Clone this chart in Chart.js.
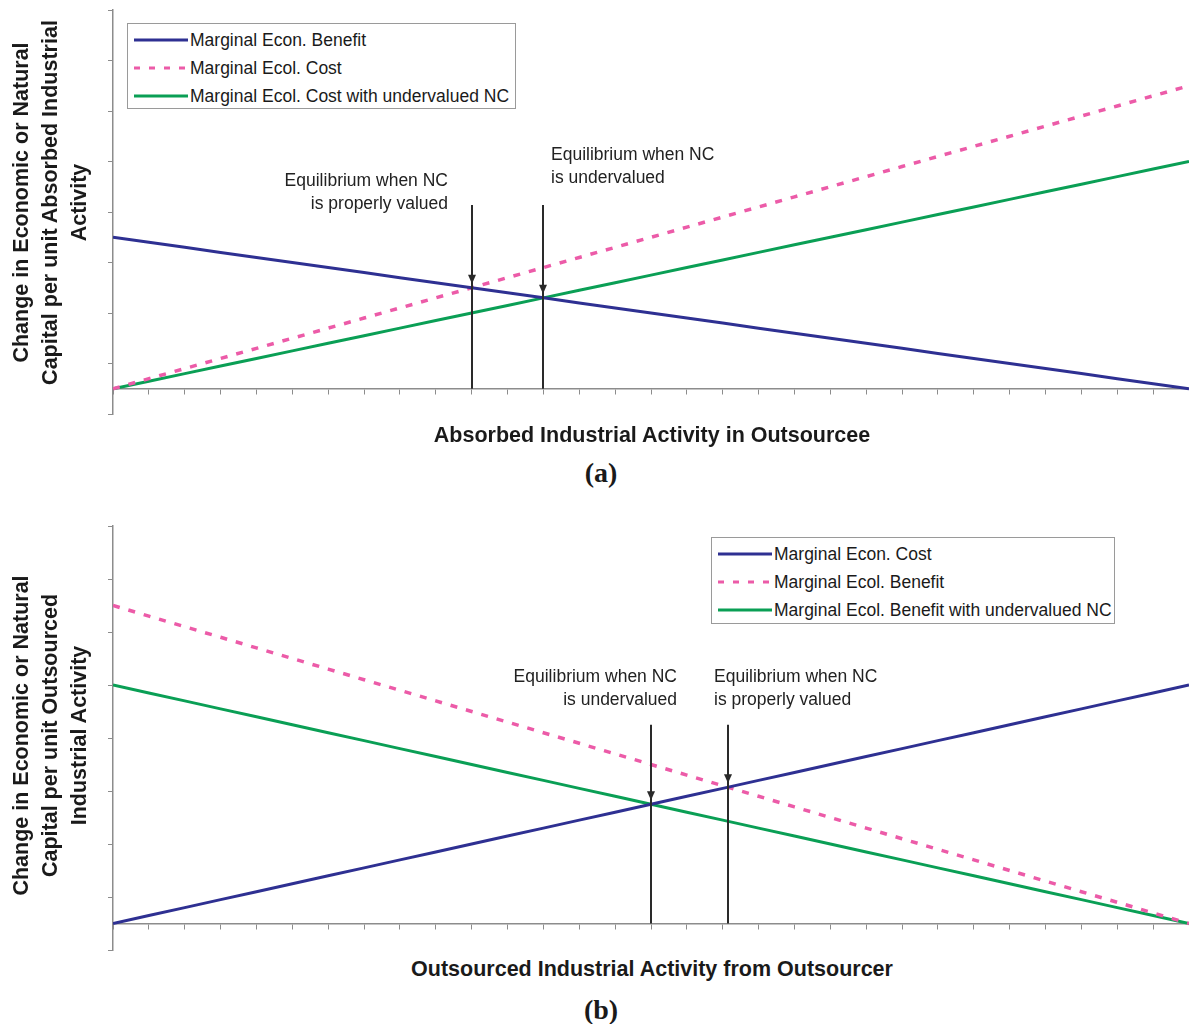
<!DOCTYPE html>
<html>
<head>
<meta charset="utf-8">
<title>Marginal costs and benefits of outsourced industrial activity</title>
<script src="https://cdn.jsdelivr.net/npm/chart.js@4.4.1/dist/chart.umd.min.js"></script>
<style>
  html, body { margin: 0; padding: 0; background: #fff; overflow: hidden; }
  #page { position: relative; width: 1189px; height: 1024px; font-family: "Liberation Sans", Arial, sans-serif; color: #1a1a1a; }
  canvas { position: absolute; left: 0; }
  .ytitle { position: absolute; width: 440px; height: 87px; font-weight: bold; font-size: 21.5px; line-height: 29px;
            text-align: center; transform: rotate(-90deg); transform-origin: 50% 50%; white-space: nowrap; }
  .xtitle { position: absolute; left: 0; width: 1304px; text-align: center; font-weight: bold; font-size: 21.5px; line-height: 26px; white-space: nowrap; }
  .panel { position: absolute; left: 0; width: 1202px; text-align: center; font-family: "Liberation Serif", "Times New Roman", serif;
           font-weight: bold; font-size: 28px; line-height: 32px; }
  .note { position: absolute; font-size: 17.5px; line-height: 23px; white-space: nowrap; color: #222; }
  .note.right { text-align: right; width: 260px; }
  .legend { position: absolute; box-sizing: border-box; border: 1px solid #9a9a9a; background: #fff; }
  .legend .row { position: absolute; left: 0; height: 24px; }
  .legend svg { position: absolute; left: 6px; top: 9px; }
  .legend span { position: absolute; top: 0; font-size: 17.5px; line-height: 24px; white-space: nowrap; }
</style>
</head>
<body>
<div id="page">
  <canvas id="chartA" width="1189" height="420" style="top:0px"></canvas>
  <canvas id="chartB" width="1189" height="440" style="top:516px"></canvas>

  <div class="ytitle" style="left:-170px; top:159px">Change in Economic or Natural<br>Capital per unit Absorbed Industrial<br>Activity</div>
  <div class="xtitle" style="top:422px">Absorbed Industrial Activity in Outsourcee</div>
  <div class="panel" style="top:457px">(a)</div>

  <div class="ytitle" style="left:-170px; top:692px">Change in Economic or Natural<br>Capital per unit Outsourced<br>Industrial Activity</div>
  <div class="xtitle" style="top:956px">Outsourced Industrial Activity from Outsourcer</div>
  <div class="panel" style="top:994px">(b)</div>

  <div class="note right" style="left:188px; top:169px">Equilibrium when NC<br>is properly valued</div>
  <div class="note" style="left:551px; top:143px">Equilibrium when NC<br>is undervalued</div>
  <div class="note right" style="left:417px; top:665px">Equilibrium when NC<br>is undervalued</div>
  <div class="note" style="left:714px; top:665px">Equilibrium when NC<br>is properly valued</div>

  <div id="legendA" class="legend" style="left:127px; top:23px; width:389px; height:86px"></div>
  <div id="legendB" class="legend" style="left:711px; top:537px; width:404px; height:87px"></div>
</div>

<script>
// Activity steps along the horizontal axis
const activity = [0, 1, 2, 3, 4, 5, 6, 7, 8, 9, 10, 11, 12, 13, 14, 15, 16, 17, 18, 19, 20,
                  21, 22, 23, 24, 25, 26, 27, 28, 29, 30];

// Panel (a): absorbed industrial activity in the outsourcee
const econBenefitA = [3.0, 2.9, 2.8, 2.7, 2.6, 2.5, 2.4, 2.3, 2.2, 2.1, 2.0, 1.9, 1.8, 1.7, 1.6, 1.5,
                      1.4, 1.3, 1.2, 1.1, 1.0, 0.9, 0.8, 0.7, 0.6, 0.5, 0.4, 0.3, 0.2, 0.1, 0.0];
const ecolCostA = [0.0, 0.2, 0.4, 0.6, 0.8, 1.0, 1.2, 1.4, 1.6, 1.8, 2.0, 2.2, 2.4, 2.6, 2.8, 3.0,
                   3.2, 3.4, 3.6, 3.8, 4.0, 4.2, 4.4, 4.6, 4.8, 5.0, 5.2, 5.4, 5.6, 5.8, 6.0];
const ecolCostUnderA = [0.00, 0.15, 0.30, 0.45, 0.60, 0.75, 0.90, 1.05, 1.20, 1.35, 1.50, 1.65, 1.80, 1.95, 2.10, 2.25,
                        2.40, 2.55, 2.70, 2.85, 3.00, 3.15, 3.30, 3.45, 3.60, 3.75, 3.90, 4.05, 4.20, 4.35, 4.50];

// Panel (b): outsourced industrial activity from the outsourcer
const econCostB = [0.00, 0.15, 0.30, 0.45, 0.60, 0.75, 0.90, 1.05, 1.20, 1.35, 1.50, 1.65, 1.80, 1.95, 2.10, 2.25,
                   2.40, 2.55, 2.70, 2.85, 3.00, 3.15, 3.30, 3.45, 3.60, 3.75, 3.90, 4.05, 4.20, 4.35, 4.50];
const ecolBenefitB = [6.0, 5.8, 5.6, 5.4, 5.2, 5.0, 4.8, 4.6, 4.4, 4.2, 4.0, 3.8, 3.6, 3.4, 3.2, 3.0,
                      2.8, 2.6, 2.4, 2.2, 2.0, 1.8, 1.6, 1.4, 1.2, 1.0, 0.8, 0.6, 0.4, 0.2, 0.0];
const ecolBenefitUnderB = [4.50, 4.35, 4.20, 4.05, 3.90, 3.75, 3.60, 3.45, 3.30, 3.15, 3.00, 2.85, 2.70, 2.55, 2.40, 2.25,
                           2.10, 1.95, 1.80, 1.65, 1.50, 1.35, 1.20, 1.05, 0.90, 0.75, 0.60, 0.45, 0.30, 0.15, 0.00];

// Equilibrium points (activity, value) where the curves cross
const equilibriaA = [{ x: 10, y: 2.0 }, { x: 12, y: 1.8 }];
const equilibriaB = [{ x: 15, y: 2.25 }, { x: 17.14, y: 2.57 }];

// Vertical tick positions on the value axis
const valueTicks = [-0.5, 0.5, 1.5, 2.5, 3.5, 4.5, 5.5, 6.5, 7.5];

// Series names
const seriesNamesA = ['Marginal Econ. Benefit', 'Marginal Ecol. Cost', 'Marginal Ecol. Cost with undervalued NC'];
const seriesNamesB = ['Marginal Econ. Cost', 'Marginal Ecol. Benefit', 'Marginal Ecol. Benefit with undervalued NC'];

const NAVY = '#2e3092';
const PINK = '#ec5ba8';
const GREEN = '#0a9f55';
const AXIS_GREY = '#8c8c8c';
const styles = [
  { color: NAVY, dash: [] },
  { color: PINK, dash: [7, 9] },
  { color: GREEN, dash: [] }
];

function points(values) {
  return values.map((v, i) => ({ x: activity[i], y: v }));
}

function datasets(names, seriesList) {
  return seriesList.map((values, i) => ({
    label: names[i],
    data: points(values),
    borderColor: styles[i].color,
    backgroundColor: styles[i].color,
    borderDash: styles[i].dash,
    borderWidth: i === 1 ? 3.5 : 3,
    borderCapStyle: 'butt',
    pointRadius: 0,
    tension: 0,
    fill: false
  }));
}

// Drop lines with arrowheads marking each equilibrium
const equilibriumMarkers = {
  id: 'equilibria',
  afterDatasetsDraw(chart, args, opts) {
    const { ctx } = chart;
    const xs = chart.scales.x, ys = chart.scales.y;
    ctx.save();
    ctx.strokeStyle = '#2a2a2a';
    ctx.fillStyle = '#2a2a2a';
    ctx.lineWidth = 2;
    const base = ys.getPixelForValue(0);
    const top = ys.getPixelForValue(opts.arrowTop);
    opts.points.forEach(p => {
      const px = Math.round(xs.getPixelForValue(p.x));
      const py = ys.getPixelForValue(p.y);
      ctx.beginPath();
      ctx.moveTo(px, top);
      ctx.lineTo(px, base);
      ctx.stroke();
      const tip = py - 4;
      ctx.beginPath();
      ctx.moveTo(px - 4, tip - 9);
      ctx.lineTo(px + 4, tip - 9);
      ctx.lineTo(px, tip);
      ctx.closePath();
      ctx.fill();
    });
    ctx.restore();
  }
};

function options(eqPoints, arrowTop) {
  return {
    responsive: false,
    animation: false,
    events: [],
    layout: { padding: { top: 10, bottom: 6, left: 0, right: 0 } },
    plugins: {
      legend: { display: false },
      tooltip: { enabled: false },
      equilibria: { points: eqPoints, arrowTop: arrowTop }
    },
    scales: {
      x: {
        type: 'linear', min: 0, max: 30,
        position: { y: 0 },
        afterBuildTicks: s => { s.ticks = activity.map(v => ({ value: v })); },
        ticks: { display: false },
        grid: { drawOnChartArea: false, drawTicks: true, tickLength: 5, color: AXIS_GREY, lineWidth: 1 },
        border: { display: true, color: AXIS_GREY, width: 1.5 }
      },
      y: {
        type: 'linear', min: -0.5, max: 7.5,
        position: 'left',
        afterBuildTicks: s => { s.ticks = valueTicks.map(v => ({ value: v })); },
        afterFit: s => { s.width = 113; },
        ticks: { display: false },
        grid: { drawOnChartArea: false, drawTicks: true, tickLength: 5, color: AXIS_GREY, lineWidth: 1 },
        border: { display: true, color: AXIS_GREY, width: 1.5 }
      }
    }
  };
}

new Chart(document.getElementById('chartA'), {
  type: 'line',
  data: { datasets: datasets(seriesNamesA, [econBenefitA, ecolCostA, ecolCostUnderA]) },
  options: options(equilibriaA, 3.64),
  plugins: [equilibriumMarkers]
});

new Chart(document.getElementById('chartB'), {
  type: 'line',
  data: { datasets: datasets(seriesNamesB, [econCostB, ecolBenefitB, ecolBenefitUnderB]) },
  options: options(equilibriaB, 3.75),
  plugins: [equilibriumMarkers]
});

// Boxed legends inside each plot
function buildLegend(el, names) {
  const rowTops = [4, 32, 60];
  names.forEach((name, i) => {
    const row = document.createElement('div');
    row.className = 'row';
    row.style.top = rowTops[i] + 'px';
    const dash = styles[i].dash.length ? 'stroke-dasharray="6,9"' : '';
    row.innerHTML =
      '<svg width="54" height="6"><line x1="0" y1="3" x2="54" y2="3" stroke="' + styles[i].color +
      '" stroke-width="3" ' + dash + '/></svg><span style="left:62px">' + name + '</span>';
    el.appendChild(row);
  });
}
buildLegend(document.getElementById('legendA'), seriesNamesA);
buildLegend(document.getElementById('legendB'), seriesNamesB);
</script>
</body>
</html>
